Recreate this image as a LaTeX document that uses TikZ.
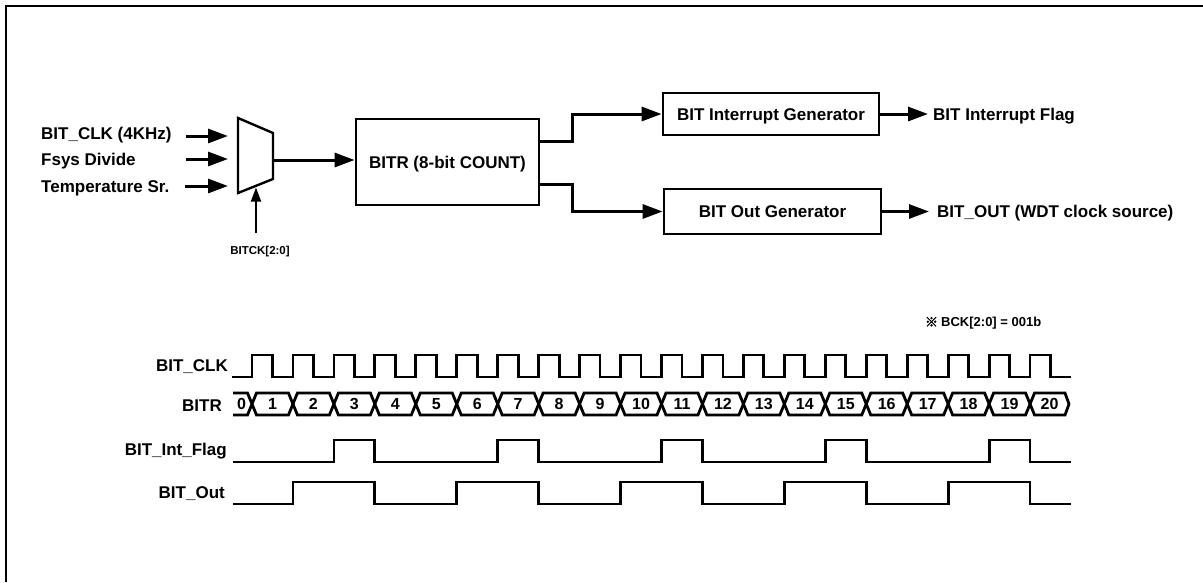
\documentclass[tikz,border=0pt]{standalone}
\usepackage{fontspec}
\setmainfont{Liberation Sans}
\newfontfamily\cjk[FakeBold=3]{Noto Sans CJK KR}
\usetikzlibrary{arrows.meta,calc}
\begin{document}
\begin{tikzpicture}[x=1pt,y=-1pt,
  lbl/.style={font=\fontsize{17}{20}\selectfont\bfseries, inner sep=0pt, text height=12.2pt, text depth=0pt},
  blk/.style={draw, line width=2.8pt, inner sep=0pt, font=\fontsize{17}{20}\selectfont\bfseries, text height=12.2pt, text depth=0pt},
  buslbl/.style={font=\fontsize{16}{19}\selectfont\bfseries, inner sep=0pt, text height=11.5pt, text depth=0pt},
  smalllbl/.style={font=\fontsize{11.5}{14}\selectfont\bfseries, inner sep=0pt, text height=8.3pt, text depth=0pt},
  notelbl/.style={font=\fontsize{13}{16}\selectfont\bfseries, inner sep=0pt, text height=9.3pt, text depth=0pt},
  arr/.style={line width=3pt, -{Triangle[length=20pt,width=14pt]}},
  thinarr/.style={line width=1.8pt, -{Triangle[length=14pt,width=10pt]}},
  wave/.style={line width=2.8pt, line join=miter},
  muxline/.style={line width=2.4pt, line join=miter}
]
\useasboundingbox (0,0) rectangle (1203,582);
% frame
\draw[line width=2.2pt] (6,582) -- (6,6) -- (1203,6);

% ---------- block diagram ----------
\node[lbl, anchor=west] (inclk) at (41,133) {BIT\_CLK (4KHz)};
\node[lbl, anchor=west] (infsys) at (41,159) {Fsys Divide};
\node[lbl, anchor=west] (intemp) at (41,186) {Temperature Sr.};

\coordinate (a1s) at (186,136); \coordinate (a1e) at (228,136);
\coordinate (a2s) at (186,159); \coordinate (a2e) at (228,159);
\coordinate (a3s) at (185,186); \coordinate (a3e) at (228,186);
\draw[arr] (a1s) -- (a1e);
\draw[arr] (a2s) -- (a2e);
\draw[arr] (a3s) -- (a3e);

% mux
\coordinate (muxTL) at (238,118);
\coordinate (muxTR) at (273,133);
\coordinate (muxBR) at (273,179);
\coordinate (muxBL) at (238,193);
\draw[muxline] (muxTL) -- (muxTR) -- (muxBR) -- (muxBL) -- cycle;
\coordinate (muxout) at (273,160);
\coordinate (muxsel) at (256,187.5);
\coordinate (selstart) at (256,233);
\node[smalllbl] (bitck) at (260,250) {BITCK[2:0]};
\draw[thinarr] (selstart) -- (muxsel);

% BITR box
\node[blk, minimum width=183pt, minimum height=86pt] (bitr) at (447.5,162) {BITR (8-bit COUNT)};
\draw[arr] (muxout) -- (muxout -| bitr.west);

% generators
\node[blk, minimum width=216pt, minimum height=42pt] (intgen) at (771,114) {BIT Interrupt Generator};
\node[blk, minimum width=217pt, minimum height=45pt] (outgen) at (772.5,211.5) {BIT Out Generator};

\draw[arr, line join=miter] ($(bitr.east)+(0,-21)$) -- ++(32,0) |- (intgen.west);
\draw[arr, line join=miter] ($(bitr.east)+(0,22)$) -- ++(32,0) |- (outgen.west);

\coordinate (flagtip) at (928,114);
\coordinate (outtip) at (929,211.5);
\draw[arr] (intgen.east) -- (flagtip);
\draw[arr] (outgen.east) -- (outtip);
\node[lbl, anchor=west] (flag) at (933,114) {BIT Interrupt Flag};
\node[lbl, anchor=west] (bitout) at (937,211.5) {BIT\_OUT (WDT clock source)};

% note
\node[notelbl, font=\fontsize{13}{16}\selectfont\cjk] (refmark) at (931.5,322) {※};
\node[notelbl, anchor=west] (bcknote) at (941,322) {BCK[2:0] = 001b};

% ---------- timing diagram ----------
\node[lbl, anchor=east] (lclk) at (228,365) {BIT\_CLK};
\node[lbl, anchor=east] (lbitr) at (222,405) {BITR};
\node[lbl, anchor=east] (lflag) at (227,449) {BIT\_Int\_Flag};
\node[lbl, anchor=east] (lout) at (225,492) {BIT\_Out};

% clock
\draw[wave] (232,377) \foreach \k in {0,...,19} { -- ({252+\k*40.95},377) -- ++(0,-22) -- ++(20.47,0) -- ++(0,22) } -- (1071,377);

% bus
\draw[wave] (233,393) -- (247.5,393) -- (252,404) -- (247.5,415) -- (233,415);
\node[buslbl] (v0) at (241.5,404) {0};
\foreach \i in {1,...,19} {
  \pgfmathsetmacro\a{252+(\i-1)*40.95}
  \pgfmathsetmacro\b{252+\i*40.95}
  \draw[wave] (\a,404) -- ({\a+4.5},393) -- ({\b-4.5},393) -- (\b,404) -- ({\b-4.5},415) -- ({\a+4.5},415) -- cycle;
  \node[buslbl] (v\i) at ({(\a+\b)/2},404) {\i};
}
\draw[wave] (1030.05,404) -- (1034.55,393) -- (1065,393) -- (1069,404) -- (1065,415) -- (1034.55,415) -- cycle;
\node[buslbl] (v20) at (1049.5,404) {20};

% interrupt flag
\draw[wave] (233,462) \foreach \j in {0,...,4} { -- ({252+(4*\j+2)*40.95},462) -- ++(0,-22) -- ({252+(4*\j+3)*40.95},440) -- ++(0,22) } -- (1071,462);

% bit out
\draw[wave] (233,504) \foreach \j in {0,...,4} { -- ({252+(4*\j+1)*40.95},504) -- ++(0,-22) -- ({252+(4*\j+3)*40.95},482) -- ++(0,22) } -- (1071,504);
\end{tikzpicture}
\end{document}
